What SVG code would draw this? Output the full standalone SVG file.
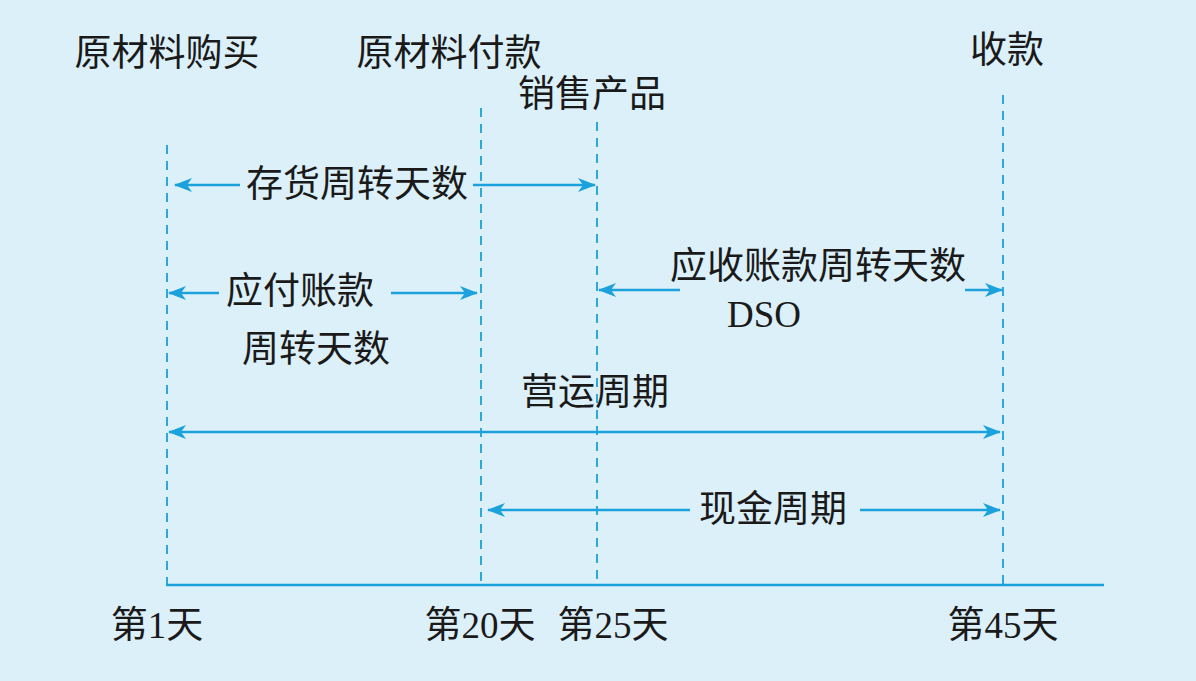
<svg xmlns="http://www.w3.org/2000/svg" width="1196" height="681" viewBox="0 0 1196 681">
<defs>
<marker id="ah" viewBox="0 0 18 14" refX="17" refY="7" markerWidth="18" markerHeight="14" markerUnits="userSpaceOnUse" orient="auto-start-reverse">
<path d="M0,0 L18,7 L0,14 L5,7 Z" fill="#1ba1dc"/>
</marker>
<style>
.t{font-family:"Liberation Serif","Noto Sans CJK SC",serif;font-size:37px;fill:#1a1a1a;text-anchor:middle}
.d{stroke:#1ba1dc;stroke-width:1.8;stroke-dasharray:9,7;fill:none}
.a{stroke:#1ba1dc;stroke-width:2.4;fill:none}
</style>
</defs>
<rect width="1196" height="681" fill="#dcf0f9"/>
<g id="connectors">
<line class="d" x1="167" y1="145" x2="167" y2="585"/>
<line class="d" x1="481" y1="108" x2="481" y2="585"/>
<line class="d" x1="597" y1="122" x2="597" y2="585"/>
<line class="d" x1="1003" y1="95" x2="1003" y2="585"/>
<line class="a" x1="166" y1="585" x2="1104" y2="585"/>
<line class="a" x1="240" y1="185" x2="175" y2="185" marker-end="url(#ah)"/>
<line class="a" x1="473" y1="185" x2="595" y2="185" marker-end="url(#ah)"/>
<line class="a" x1="219" y1="293" x2="169" y2="293" marker-end="url(#ah)"/>
<line class="a" x1="391" y1="293" x2="477" y2="293" marker-end="url(#ah)"/>
<line class="a" x1="680" y1="290" x2="599" y2="290" marker-end="url(#ah)"/>
<line class="a" x1="965" y1="290" x2="1002" y2="290" marker-end="url(#ah)"/>
<line class="a" x1="169" y1="432" x2="1000" y2="432" marker-start="url(#ah)" marker-end="url(#ah)"/>
<line class="a" x1="690" y1="510" x2="488" y2="510" marker-end="url(#ah)"/>
<line class="a" x1="860" y1="510" x2="1000" y2="510" marker-end="url(#ah)"/>
</g>
<g id="n-purchase"><text class="t" x="167" y="66">原材料购买</text></g>
<g id="n-payment"><text class="t" x="449" y="66">原材料付款</text></g>
<g id="n-sale"><text class="t" x="592" y="107">销售产品</text></g>
<g id="n-collect"><text class="t" x="1007" y="63">收款</text></g>
<g id="n-inventory"><text class="t" x="357" y="197">存货周转天数</text></g>
<g id="n-payable"><text class="t" x="300" y="304">应付账款</text><text class="t" x="316" y="362">周转天数</text></g>
<g id="n-receivable"><text class="t" x="818" y="279">应收账款周转天数</text><text class="t" x="764" y="327">DSO</text></g>
<g id="n-operating"><text class="t" x="595" y="405">营运周期</text></g>
<g id="n-cash"><text class="t" x="773" y="522">现金周期</text></g>
<g id="n-day1"><text class="t" x="157" y="638">第1天</text></g>
<g id="n-day20"><text class="t" x="480" y="638">第20天</text></g>
<g id="n-day25"><text class="t" x="613" y="638">第25天</text></g>
<g id="n-day45"><text class="t" x="1003" y="638">第45天</text></g>
</svg>
